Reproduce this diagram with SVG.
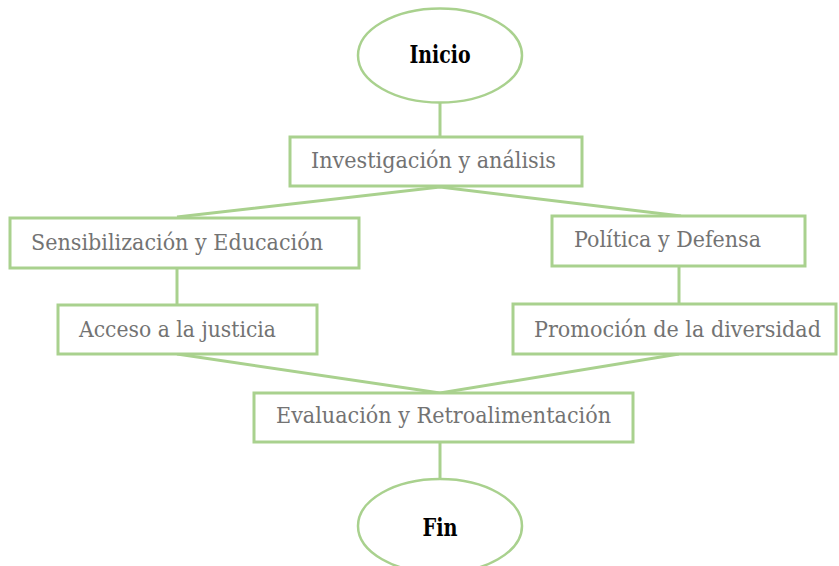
<svg xmlns="http://www.w3.org/2000/svg" width="839" height="566" viewBox="0 0 839 566">
<style>
.box{fill:#fff;stroke:#A9D18E;stroke-width:3}
.term{fill:#fff;stroke:#A9D18E;stroke-width:2.5}
.conn{stroke:#A9D18E;stroke-width:3;fill:none}
.lbl{font-family:"DejaVu Serif","Liberation Serif",serif;font-size:22.5px;fill:#737373}
.tl{font-family:"DejaVu Serif","Liberation Serif",serif;font-size:24px;font-weight:bold;fill:#000;text-anchor:middle}
</style>
<rect width="839" height="566" fill="#fff"/>
<g id="connectors">
<line class="conn" x1="440" y1="103" x2="440" y2="137"/>
<polyline class="conn" points="177,217 440,187 681,216"/>
<line class="conn" x1="177" y1="268" x2="177" y2="305"/>
<line class="conn" x1="679" y1="266" x2="679" y2="304"/>
<polyline class="conn" points="177,354 440,393 679,354"/>
<line class="conn" x1="440" y1="442" x2="440" y2="479"/>
</g>
<g id="inicio">
<ellipse class="term" cx="440" cy="55.5" rx="82" ry="47"/>
<text class="tl" x="440" y="63" textLength="61" lengthAdjust="spacingAndGlyphs">Inicio</text>
</g>
<g id="investigacion">
<rect class="box" x="290" y="137" width="292" height="49"/>
<text class="lbl" x="311" y="168" textLength="245" lengthAdjust="spacingAndGlyphs">Investigación y análisis</text>
</g>
<g id="sensibilizacion">
<rect class="box" x="10" y="218" width="349" height="50"/>
<text class="lbl" x="31" y="250" textLength="292" lengthAdjust="spacingAndGlyphs">Sensibilización y Educación</text>
</g>
<g id="politica">
<rect class="box" x="552" y="216" width="253" height="50"/>
<text class="lbl" x="574" y="247" textLength="187" lengthAdjust="spacingAndGlyphs">Política y Defensa</text>
</g>
<g id="acceso">
<rect class="box" x="58" y="305" width="259" height="49"/>
<text class="lbl" x="79" y="337" textLength="197" lengthAdjust="spacingAndGlyphs">Acceso a la justicia</text>
</g>
<g id="promocion">
<rect class="box" x="513" y="304" width="323" height="50"/>
<text class="lbl" x="534" y="337" textLength="287" lengthAdjust="spacingAndGlyphs">Promoción de la diversidad</text>
</g>
<g id="evaluacion">
<rect class="box" x="254" y="393" width="379" height="49"/>
<text class="lbl" x="276" y="423" textLength="335" lengthAdjust="spacingAndGlyphs">Evaluación y Retroalimentación</text>
</g>
<g id="fin">
<ellipse class="term" cx="440" cy="526" rx="82" ry="47"/>
<text class="tl" x="440" y="536" textLength="35" lengthAdjust="spacingAndGlyphs">Fin</text>
</g>
</svg>
